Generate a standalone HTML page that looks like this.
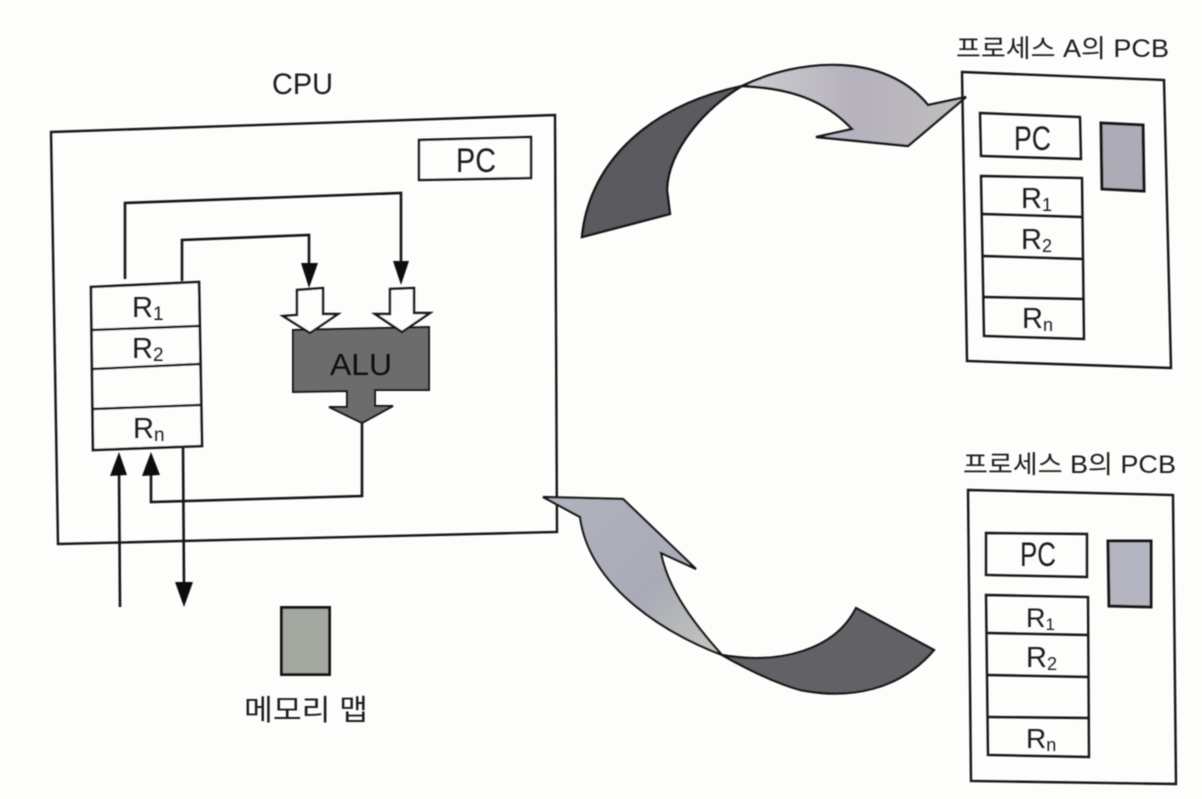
<!DOCTYPE html>
<html lang="ko">
<head>
<meta charset="utf-8">
<title>CPU context switch diagram</title>
<style>
html,body{margin:0;padding:0;background:#fdfdfb;}
svg{display:block;}
text{font-family:"Liberation Sans","Noto Sans CJK KR",sans-serif;fill:#1c1c1c;}
</style>
</head>
<body>
<svg xmlns="http://www.w3.org/2000/svg" width="1202" height="799" viewBox="0 0 1202 799">
<defs>
<linearGradient id="ga" x1="0" y1="0" x2="1" y2="0"><stop offset="0" stop-color="#cfcdd0"/><stop offset="0.5" stop-color="#b6b2bd"/><stop offset="1" stop-color="#c0bebd"/></linearGradient>
<linearGradient id="gb" x1="0" y1="0" x2="1" y2="1"><stop offset="0" stop-color="#b0b2bd"/><stop offset="0.6" stop-color="#a9abb6"/><stop offset="1" stop-color="#c6c8c0"/></linearGradient>
<filter id="s"><feGaussianBlur stdDeviation="0.45"/></filter>
</defs>
<rect width="1202" height="799" fill="#fdfdfb"/>
<g filter="url(#s)" stroke="#141414" stroke-width="2.4" fill="none" stroke-linejoin="miter">

<!-- CPU -->
<polygon points="51,132 555,115 557,532 58,544"/>
<polygon points="419,140 531,137 531,178 419,180" fill="#fdfdfb"/>

<!-- connectors -->
<polyline points="125,279 125,203 401,193 401,264" stroke-width="2.6"/>
<polygon points="393,261 409,261 401,285" fill="#111" stroke="none"/>
<polyline points="182,281 182,240 309,235 309,266" stroke-width="2.6"/>
<polygon points="301,263 318,263 309,288" fill="#111" stroke="none"/>
<polyline points="362,423 362,496 151,502 151,470" stroke-width="2.6"/>
<polygon points="142,476 160,475 151,452" fill="#111" stroke="none"/>
<line x1="120" y1="607" x2="119" y2="470" stroke-width="2.6"/>
<polygon points="110,476 127,475 119,452" fill="#111" stroke="none"/>
<line x1="183" y1="447" x2="184" y2="586" stroke-width="2.6"/>
<polygon points="175,582 193,582 184,607" fill="#111" stroke="none"/>

<!-- registers -->
<polygon points="91,287 199,282 202,446 93,450" fill="#fdfdfb" stroke-width="2.6"/>
<line x1="92" y1="330" x2="199" y2="326"/>
<line x1="92" y1="369" x2="200" y2="364"/>
<line x1="93" y1="409" x2="200" y2="405"/>

<!-- ALU -->
<polygon points="293,330 429,327 429,390 375,390 375,406 393,406 362,423 329,407 347,407 347,391 293,392" fill="#6c6c6c" stroke-width="2"/>
<polygon points="297,290 323,288 323,314 338,314 310,333 283,316 297,315" fill="#fdfdfb"/>
<polygon points="390,289 414,288 414,313 430,313 402,332 375,314 390,314" fill="#fdfdfb"/>

<!-- PCB A -->
<polygon points="962,72 1164,80 1171,368 967,361"/>
<polygon points="980,113 1080,117 1081,159 981,156"/>
<polygon points="1101,123 1143,125 1144,191 1102,189" fill="#adabb5" stroke-width="3"/>
<polygon points="981,176 1082,178 1084,339 984,336"/>
<line x1="982" y1="214" x2="1082" y2="217"/>
<line x1="983" y1="256" x2="1083" y2="259"/>
<line x1="984" y1="297" x2="1083" y2="299"/>

<!-- PCB B -->
<polygon points="968,490 1173,495 1176,784 971,781"/>
<polygon points="986,533 1087,534 1087,577 986,575"/>
<polygon points="1108,541 1151,541 1151,607 1109,606" fill="#b4b5c0" stroke-width="3"/>
<polygon points="986,595 1088,597 1089,757 988,755"/>
<line x1="987" y1="633" x2="1088" y2="635"/>
<line x1="987" y1="675" x2="1089" y2="677"/>
<line x1="988" y1="717" x2="1089" y2="718"/>

<!-- memory map -->
<rect x="281.5" y="607.5" width="48" height="67" fill="#a3a7a0" stroke-width="3"/>

<!-- top swoosh -->
<path d="M582,237 C588,170 640,108 742,86 C705,108 668,150 667,190 L670,214 Z" fill="#5a5a5e" stroke-width="2.4"/>
<path d="M742,86 C800,58 885,52 928,105 L966,97 L908,146 L816,137 L852,129 C825,100 790,88 742,86 Z" fill="url(#ga)" stroke-width="2.4"/>

<!-- bottom swoosh -->
<path d="M543,497 L623,499 L696,569 L661,553 C668,590 695,625 722,655 C670,635 590,590 580,517 Z" fill="url(#gb)" stroke-width="2.2"/>
<path d="M722,655 C780,665 835,650 856,608 L934,650 C900,690 850,700 800,690 C775,683 745,668 722,655 Z" fill="#626266" stroke-width="2.2"/>
</g>

<g filter="url(#s)">
<text x="272" y="94" font-size="30" textLength="61" lengthAdjust="spacingAndGlyphs">CPU</text>
<text x="456" y="172" font-size="34" textLength="40" lengthAdjust="spacingAndGlyphs">PC</text>

<text x="132" y="317" font-size="29">R<tspan font-size="19" dy="3">1</tspan></text>
<text x="132" y="358" font-size="29">R<tspan font-size="19" dy="3">2</tspan></text>
<text x="133" y="438" font-size="29">R<tspan font-size="19" dy="3">n</tspan></text>
<text x="330" y="375" font-size="31" textLength="62" lengthAdjust="spacingAndGlyphs" style="fill:#111">ALU</text>

<text x="244" y="720" font-size="29" textLength="124" lengthAdjust="spacingAndGlyphs">메모리 맵</text>

<text x="956" y="57" font-size="25" textLength="213" lengthAdjust="spacingAndGlyphs">프로세스 A의 PCB</text>
<text x="1014" y="150" font-size="34" textLength="37" lengthAdjust="spacingAndGlyphs">PC</text>
<text x="1021" y="208" font-size="29">R<tspan font-size="18" dy="3">1</tspan></text>
<text x="1021" y="249" font-size="29">R<tspan font-size="18" dy="3">2</tspan></text>
<text x="1022" y="328" font-size="29">R<tspan font-size="18" dy="3">n</tspan></text>

<text x="963" y="473" font-size="25" textLength="213" lengthAdjust="spacingAndGlyphs">프로세스 B의 PCB</text>
<text x="1020" y="566" font-size="34" textLength="36" lengthAdjust="spacingAndGlyphs">PC</text>
<text x="1026" y="627" font-size="27">R<tspan font-size="17" dy="3">1</tspan></text>
<text x="1026" y="667" font-size="29">R<tspan font-size="18" dy="3">2</tspan></text>
<text x="1026" y="748" font-size="28">R<tspan font-size="18" dy="3">n</tspan></text>
</g>
</svg>
</body>
</html>
